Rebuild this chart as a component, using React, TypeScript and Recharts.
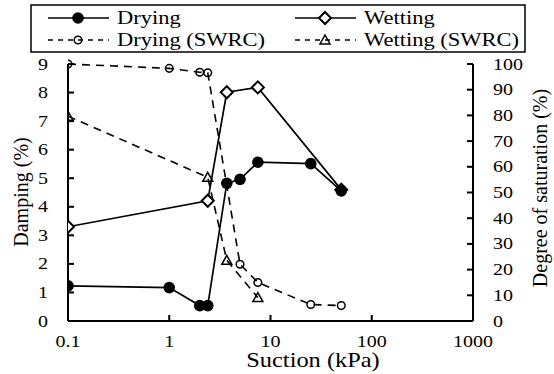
import React from "react";
import {
  ComposedChart,
  Line,
  XAxis,
  YAxis,
  Legend,
  Label,
} from "recharts";

// suction (kPa), one list per series
const dryingSuction = [0.1, 1, 2, 2.4, 3.7, 5, 7.5, 25, 50];
const dryingDamping = [1.23, 1.17, 0.54, 0.54, 4.82, 4.96, 5.56, 5.51, 4.56];

const wettingSuction = [0.1, 2.4, 3.7, 7.5, 50];
const wettingDamping = [3.3, 4.21, 8.01, 8.18, 4.6];

const dryingSwrcSuction = [0.1, 1, 2, 2.4, 5, 7.5, 25, 50];
const dryingSaturation = [100, 98.3, 96.8, 96.6, 22.1, 15.0, 6.4, 6.0];

const wettingSwrcSuction = [0.1, 2.4, 3.7, 7.5];
const wettingSaturation = [79.7, 55.9, 23.6, 9.1];

const suctionTicks = [0.1, 1, 10, 100, 1000];
const dampingTicks = [0, 1, 2, 3, 4, 5, 6, 7, 8, 9];
const saturationTicks = [0, 10, 20, 30, 40, 50, 60, 70, 80, 90, 100];

const FONT = "Liberation Serif";
const DASH = "8 6";

const toPoints = (xs: number[], ys: number[]) =>
  xs.map((x, i) => ({ suction: x, value: ys[i] }));

// the source figure is a bit wider than tall, so text is stretched sideways
const SText = ({ x, y, size, anchor = "start", sx = 1.25, children }: any) => (
  <text
    transform={`translate(${x},${y}) scale(${sx},1)`}
    textAnchor={anchor}
    fontFamily={FONT}
    fontSize={size}
    fill="#000"
  >
    {children}
  </text>
);

// markers
const FilledDot = ({ cx, cy }: any) =>
  cx == null ? null : <circle cx={cx} cy={cy} r={5.8} fill="#000" />;

const Diamond = ({ cx, cy }: any) =>
  cx == null ? null : (
    <polygon
      points={`${cx},${cy - 6} ${cx + 6},${cy} ${cx},${cy + 6} ${cx - 6},${cy}`}
      fill="#fff"
      stroke="#000"
      strokeWidth={2}
    />
  );

const OpenDot = ({ cx, cy }: any) =>
  cx == null ? null : (
    <circle cx={cx} cy={cy} r={3.8} fill="none" stroke="#000" strokeWidth={1.5} />
  );

const Triangle = ({ cx, cy }: any) =>
  cx == null ? null : (
    <polygon
      points={`${cx},${cy - 5} ${cx + 5},${cy + 4} ${cx - 5},${cy + 4}`}
      fill="none"
      stroke="#000"
      strokeWidth={1.5}
    />
  );

// ticks point inwards, so draw them ourselves
const XTick = ({ x, y, payload }: any) => (
  <g>
    <line x1={x} y1={y} x2={x} y2={y - 6} stroke="#000" strokeWidth={2} />
    <SText x={x} y={y + 26} size={16} anchor="middle">
      {String(payload.value)}
    </SText>
  </g>
);

const LeftTick = ({ x, y, payload }: any) => (
  <g>
    <line x1={x} y1={y} x2={x + 6} y2={y} stroke="#000" strokeWidth={2} />
    <SText x={x - 20} y={y + 5.5} size={16} anchor="end">
      {String(payload.value)}
    </SText>
  </g>
);

const RightTick = ({ x, y, payload }: any) => (
  <g>
    <line x1={x} y1={y} x2={x - 6} y2={y} stroke="#000" strokeWidth={2} />
    <SText x={x + 20} y={y + 5.5} size={16} anchor="start">
      {String(payload.value)}
    </SText>
  </g>
);

const legendItems = [
  { label: "Drying", x: 48, y: 18, dash: undefined, marker: FilledDot },
  { label: "Wetting", x: 295, y: 18, dash: undefined, marker: Diamond },
  { label: "Drying (SWRC)", x: 48, y: 40, dash: "5 5", marker: OpenDot },
  { label: "Wetting (SWRC)", x: 295, y: 40, dash: "5 5", marker: Triangle },
];

const LegendBox = () => (
  <svg width={554} height={60} style={{ display: "block" }}>
    <rect x={31} y={5} width={494} height={47} fill="#fff" stroke="#000" strokeWidth={1.5} />
    {legendItems.map((it) => {
      const Marker = it.marker;
      return (
        <g key={it.label}>
          <line
            x1={it.x}
            y1={it.y}
            x2={it.x + 61}
            y2={it.y}
            stroke="#000"
            strokeWidth={1.5}
            strokeDasharray={it.dash}
          />
          <Marker cx={it.x + 30} cy={it.y} />
          <SText x={it.x + 69} y={it.y + 6} size={18}>
            {it.label}
          </SText>
        </g>
      );
    })}
  </svg>
);

const RotText = ({ x, y, children }: any) => (
  <text
    transform={`translate(${x},${y}) rotate(-90)`}
    textAnchor="middle"
    fontFamily={FONT}
    fontSize={20}
    fill="#000"
  >
    {children}
  </text>
);

export default function App() {
  return (
    <div style={{ position: "absolute", left: 0, top: 0, background: "#fff" }}>
      <ComposedChart
        width={554}
        height={374}
        margin={{ top: 64, right: 8, bottom: 8, left: 8 }}
      >
        <XAxis
          dataKey="suction"
          type="number"
          scale="log"
          domain={[0.1, 1000]}
          ticks={suctionTicks}
          allowDataOverflow
          axisLine={{ stroke: "#000", strokeWidth: 2 }}
          tickLine={false}
          tickSize={0}
          tickMargin={0}
          tick={<XTick />}
          height={45}
        >
          <Label
            content={() => (
              <SText x={313} y={367} size={20} anchor="middle" sx={1.22}>
                Suction (kPa)
              </SText>
            )}
          />
        </XAxis>
        <YAxis
          yAxisId="left"
          domain={[0, 9]}
          ticks={dampingTicks}
          axisLine={{ stroke: "#000", strokeWidth: 2 }}
          tickLine={false}
          tickSize={0}
          tickMargin={0}
          tick={<LeftTick />}
          width={60}
        >
          <Label content={() => <RotText x={28} y={192}>Damping (%)</RotText>} />
        </YAxis>
        <YAxis
          yAxisId="right"
          orientation="right"
          domain={[0, 100]}
          ticks={saturationTicks}
          axisLine={{ stroke: "#000", strokeWidth: 2 }}
          tickLine={false}
          tickSize={0}
          tickMargin={0}
          tick={<RightTick />}
          width={73}
        >
          <Label
            content={() => <RotText x={547} y={188}>Degree of saturation (%)</RotText>}
          />
        </YAxis>
        <Legend
          layout="horizontal"
          verticalAlign="middle"
          align="center"
          wrapperStyle={{ position: "absolute", top: 0, left: 0, width: 554, height: 60 }}
          content={() => <LegendBox />}
        />
        <Line
          yAxisId="right"
          data={toPoints(dryingSwrcSuction, dryingSaturation)}
          dataKey="value"
          stroke="#000"
          strokeWidth={1.6}
          strokeDasharray={DASH}
          dot={(p: any) => <OpenDot key={p.index} {...p} />}
          isAnimationActive={false}
        />
        <Line
          yAxisId="right"
          data={toPoints(wettingSwrcSuction, wettingSaturation)}
          dataKey="value"
          stroke="#000"
          strokeWidth={1.6}
          strokeDasharray={DASH}
          dot={(p: any) => <Triangle key={p.index} {...p} />}
          isAnimationActive={false}
        />
        <Line
          yAxisId="left"
          data={toPoints(wettingSuction, wettingDamping)}
          dataKey="value"
          stroke="#000"
          strokeWidth={1.7}
          dot={(p: any) => <Diamond key={p.index} {...p} />}
          isAnimationActive={false}
        />
        <Line
          yAxisId="left"
          data={toPoints(dryingSuction, dryingDamping)}
          dataKey="value"
          stroke="#000"
          strokeWidth={1.7}
          dot={(p: any) => <FilledDot key={p.index} {...p} />}
          isAnimationActive={false}
        />
      </ComposedChart>
    </div>
  );
}
